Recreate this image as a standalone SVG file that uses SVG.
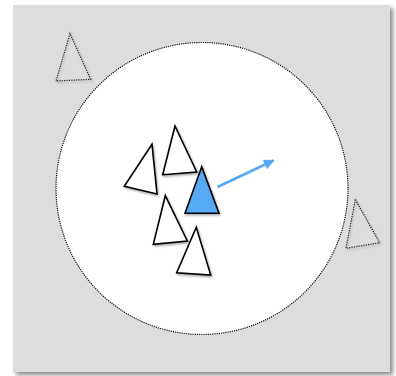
<svg xmlns="http://www.w3.org/2000/svg" width="396" height="376" viewBox="0 0 396 376">
<defs>
<style>
.tri{fill:#fff;stroke:#000;stroke-width:1.6;stroke-linejoin:miter}
.ghost{fill:none;stroke:#222;stroke-width:1.2;stroke-dasharray:1.2 1.2}
.blue{fill:#55a9f5;stroke:#000;stroke-width:1.6}
</style>
<filter id="sh" x="-30%" y="-30%" width="160%" height="160%">
<feDropShadow dx="1" dy="1.5" stdDeviation="1.2" flood-color="#000" flood-opacity="0.35"/>
</filter>
<filter id="bsh" x="-5%" y="-5%" width="115%" height="115%">
<feDropShadow dx="3" dy="3" stdDeviation="2" flood-color="#000" flood-opacity="0.45"/>
</filter>
<marker id="ah" viewBox="0 0 10 10" refX="9" refY="5" markerWidth="4.8" markerHeight="4.2" orient="auto" markerUnits="strokeWidth">
<path d="M0,0 L10,5 L0,10 z" fill="#55a9f5"/>
</marker>
</defs>
<rect x="13" y="5" width="377" height="367" fill="#dcdddf" filter="url(#bsh)"/>
<circle id="range" cx="202" cy="188.5" r="146" fill="#fff" stroke="#111" stroke-width="1.2" stroke-dasharray="1.2 1"/>
<g id="ghost1" filter="url(#sh)"><polygon class="ghost" points="70,33.5 56,81 90.7,79.3"/></g>
<g id="ghost2" filter="url(#sh)"><polygon class="ghost" points="355.3,199.5 346,248.3 379.7,242.7"/></g>
<g id="boidA" filter="url(#sh)"><polygon class="tri" points="152,144.3 124.3,186.3 157,194"/></g>
<g id="boidB" filter="url(#sh)"><polygon class="tri" points="175,126 162.7,174.7 196.7,172"/></g>
<g id="boidC" filter="url(#sh)"><polygon class="tri" points="165.3,195.7 153.3,244.3 187.3,241"/></g>
<g id="boidD" filter="url(#sh)"><polygon class="tri" points="196.3,227.3 176.7,272.7 210.7,275"/></g>
<g id="boid" filter="url(#sh)"><polygon class="blue" points="201.7,166.7 185,213.3 219,213.3"/></g>
<g id="connectors">
<line x1="217.5" y1="187" x2="273.5" y2="160.5" stroke="#55a9f5" stroke-width="2.5" marker-end="url(#ah)"/>
</g>
</svg>
